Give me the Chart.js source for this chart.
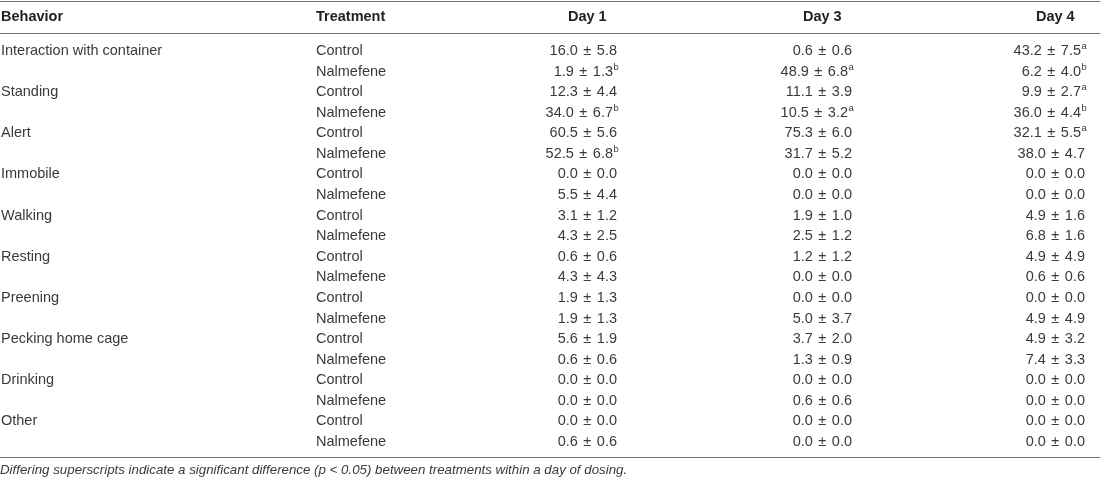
<!DOCTYPE html>
<html>
<head>
<meta charset="utf-8">
<title>Behavior by treatment and day</title>
<script src="https://cdn.jsdelivr.net/npm/chart.js@4"></script>
<style>
  html, body { margin: 0; padding: 0; background: #fff; }
  #wrap { width: 1100px; height: 482px; position: relative; }
</style>
</head>
<body>
<div id="wrap"><canvas id="table"></canvas></div>
<script>
// table contents
const headers = ['Behavior', 'Treatment', 'Day 1', 'Day 3', 'Day 4'];
const behaviors = ['Interaction with container', 'Standing', 'Alert', 'Immobile', 'Walking',
  'Resting', 'Preening', 'Pecking home cage', 'Drinking', 'Other'];
const treatments = ['Control', 'Nalmefene'];

const day1Mean = [16.0, 1.9, 12.3, 34.0, 60.5, 52.5, 0.0, 5.5, 3.1, 4.3, 0.6, 4.3, 1.9, 1.9, 5.6, 0.6, 0.0, 0.0, 0.0, 0.6];
const day1Sem  = [5.8, 1.3, 4.4, 6.7, 5.6, 6.8, 0.0, 4.4, 1.2, 2.5, 0.6, 4.3, 1.3, 1.3, 1.9, 0.6, 0.0, 0.0, 0.0, 0.6];
const day1Sup  = ['', 'b', '', 'b', '', 'b', '', '', '', '', '', '', '', '', '', '', '', '', '', ''];

const day3Mean = [0.6, 48.9, 11.1, 10.5, 75.3, 31.7, 0.0, 0.0, 1.9, 2.5, 1.2, 0.0, 0.0, 5.0, 3.7, 1.3, 0.0, 0.6, 0.0, 0.0];
const day3Sem  = [0.6, 6.8, 3.9, 3.2, 6.0, 5.2, 0.0, 0.0, 1.0, 1.2, 1.2, 0.0, 0.0, 3.7, 2.0, 0.9, 0.0, 0.6, 0.0, 0.0];
const day3Sup  = ['', 'a', '', 'a', '', '', '', '', '', '', '', '', '', '', '', '', '', '', '', ''];

const day4Mean = [43.2, 6.2, 9.9, 36.0, 32.1, 38.0, 0.0, 0.0, 4.9, 6.8, 4.9, 0.6, 0.0, 4.9, 4.9, 7.4, 0.0, 0.0, 0.0, 0.0];
const day4Sem  = [7.5, 4.0, 2.7, 4.4, 5.5, 4.7, 0.0, 0.0, 1.6, 1.6, 4.9, 0.6, 0.0, 4.9, 3.2, 3.3, 0.0, 0.0, 0.0, 0.0];
const day4Sup  = ['a', 'b', 'a', 'b', 'a', '', '', '', '', '', '', '', '', '', '', '', '', '', '', ''];

const footnote = 'Differing superscripts indicate a significant difference (p < 0.05) between treatments within a day of dosing.';

// layout (x in pixels of the x scale, y in row units of the y scale)
const colX = [1, 316, 617, 852, 1085];
const headerRow = -1.63;
const ruleRows = [-2.43, -0.86, 19.73];
const footRow = 20.38;

const FONT = '"Liberation Sans", Arial, Helvetica, sans-serif';
const TEXT = '#3a3a3a';
const GAP = '1.5px'; // a bit of air round the ± sign

const nRows = behaviors.length * treatments.length;
const rowIdx = Array.from({ length: nRows }, (_, i) => i);

function cellText(mean, sem, i) {
  return mean[i].toFixed(1) + ' \u00b1 ' + sem[i].toFixed(1);
}

function column(col, texts, opts) {
  return Object.assign({
    data: texts.map((t) => ({ x: colX[col], y: t.row })),
    texts: texts,
    pointRadius: 0,
    pointHoverRadius: 0,
  }, opts);
}

const behaviorCells = behaviors.map((b, k) => ({ row: k * 2, text: b }));
const treatmentCells = rowIdx.map((i) => ({ row: i, text: treatments[i % 2] }));
const dayCells = (mean, sem, sup) => rowIdx.map((i) => ({ row: i, text: cellText(mean, sem, i), sup: sup[i] }));
const headerCells = (c) => [{ row: headerRow, text: headers[c] }];

const datasets = [
  column(0, behaviorCells, { align: 'left' }),
  column(1, treatmentCells, { align: 'left' }),
  column(2, dayCells(day1Mean, day1Sem, day1Sup), { align: 'right' }),
  column(3, dayCells(day3Mean, day3Sem, day3Sup), { align: 'right' }),
  column(4, dayCells(day4Mean, day4Sem, day4Sup), { align: 'right' }),
  column(0, headerCells(0), { align: 'left', bold: true }),
  column(1, headerCells(1), { align: 'left', bold: true }),
  column(2, headerCells(2), { align: 'center', bold: true }),
  column(3, headerCells(3), { align: 'center', bold: true }),
  column(4, headerCells(4), { align: 'center', bold: true }),
];

// draws every cell as text at its point's position, plus the rules and footnote
const tableText = {
  id: 'tableText',
  afterDatasetsDraw(chart) {
    const ctx = chart.ctx;
    const xs = chart.scales.x, ys = chart.scales.y;
    ctx.save();

    ctx.strokeStyle = '#707070';
    ctx.lineWidth = 1;
    ruleRows.forEach((r) => {
      const y = Math.round(ys.getPixelForValue(r)) + 0.5;
      ctx.beginPath();
      ctx.moveTo(xs.left, y);
      ctx.lineTo(xs.right, y);
      ctx.stroke();
    });

    ctx.textBaseline = 'middle';
    ctx.font = '14.5px ' + FONT;
    ctx.wordSpacing = GAP;
    const dayWidth = ctx.measureText('0.0 \u00b1 0.0').width;
    ctx.wordSpacing = '0px';

    chart.data.datasets.forEach((ds, di) => {
      const meta = chart.getDatasetMeta(di);
      meta.data.forEach((pt, i) => {
        const cell = ds.texts[i];
        let x = pt.x;
        const y = pt.y;
        ctx.font = (ds.bold ? 'bold ' : '') + '14.5px ' + FONT;
        ctx.fillStyle = ds.bold ? '#222' : TEXT;
        if (ds.align === 'center') {
          // headers of the day columns sit centred over the values
          ctx.textAlign = 'center';
          ctx.fillText(cell.text, x - dayWidth / 2, y);
          return;
        }
        if (ds.align === 'right') {
          if (cell.sup) x -= 4;
          ctx.wordSpacing = GAP;
          ctx.textAlign = 'right';
          ctx.fillText(cell.text, x, y);
          ctx.wordSpacing = '0px';
          if (cell.sup) {
            ctx.font = '9.5px ' + FONT;
            ctx.textAlign = 'left';
            ctx.fillText(cell.sup, x + 0.5, y - 4.5);
          }
          return;
        }
        ctx.textAlign = 'left';
        ctx.fillText(cell.text, x, y);
      });
    });

    ctx.font = 'italic 13.3px ' + FONT;
    ctx.fillStyle = TEXT;
    ctx.textAlign = 'left';
    ctx.fillText(footnote, xs.getPixelForValue(0), ys.getPixelForValue(footRow));
    ctx.restore();
  },
};

new Chart(document.getElementById('table'), {
  type: 'scatter',
  data: { datasets: datasets },
  options: {
    responsive: true,
    maintainAspectRatio: false,
    animation: false,
    events: [],
    layout: { padding: 0 },
    plugins: { legend: { display: false }, tooltip: { enabled: false } },
    scales: {
      x: { type: 'linear', display: false, min: 0, max: 1100 },
      y: { type: 'linear', display: false, reverse: true, min: -2.478, max: 20.942 },
    },
  },
  plugins: [tableText],
});
</script>
</body>
</html>
